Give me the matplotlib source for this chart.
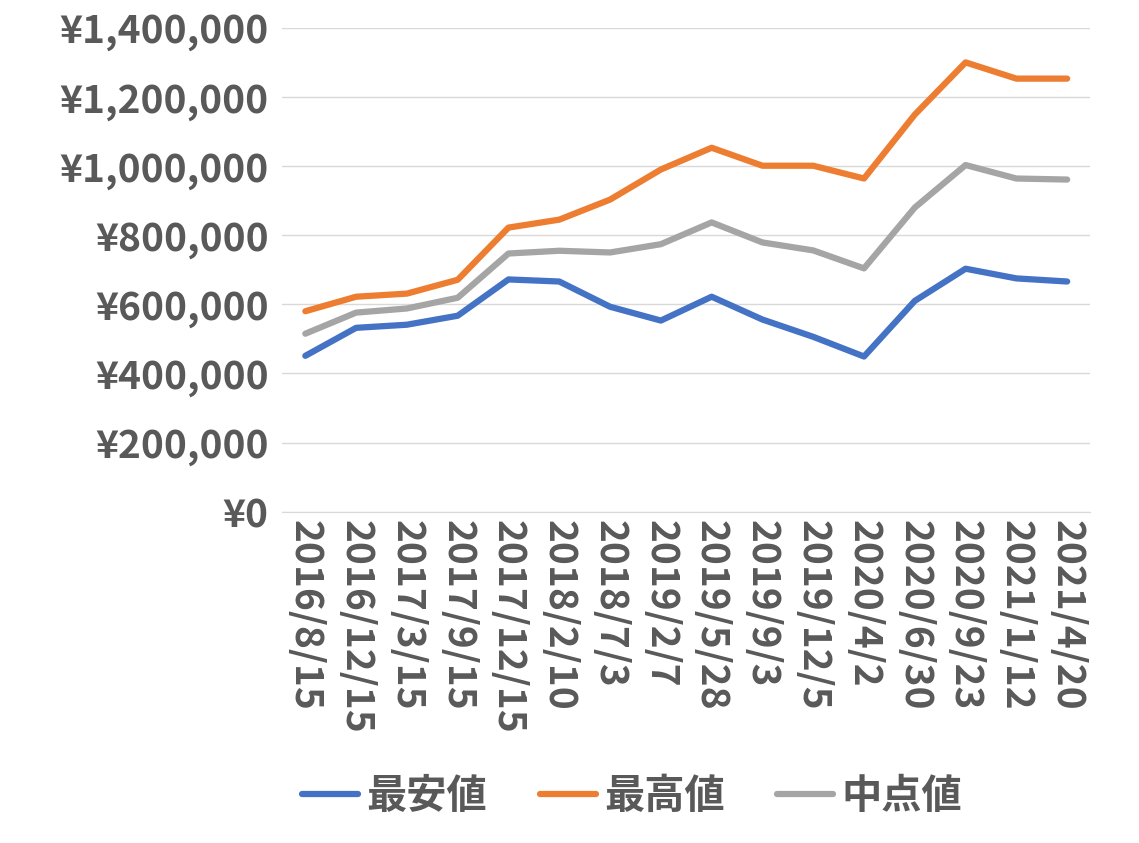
import matplotlib
matplotlib.use("Agg")
import matplotlib.pyplot as plt
from matplotlib.ticker import FuncFormatter

dates = ["2016/8/15","2016/12/15","2017/3/15","2017/9/15","2017/12/15","2018/2/10","2018/7/3","2019/2/7",
         "2019/5/28","2019/9/3","2019/12/5","2020/4/2","2020/6/30","2020/9/23","2021/1/12","2021/4/20"]
low = [451000,532000,541000,567000,672000,666000,593000,553000,622000,556000,506000,449000,610000,703000,675000,666000]
high = [580000,622000,631000,671000,822000,845000,903000,990000,1053000,1001000,1001000,964000,1149000,1300000,1253000,1253000]
mid = [515000,576000,588000,619000,747000,755000,750000,774000,837000,779000,756000,704000,880000,1003000,964000,961000]
names = ["最安値","最高値","中点値"]

plt.rcParams["font.family"] = ["Noto Sans CJK JP", "DejaVu Sans"]
fig = plt.figure(figsize=(11.39,8.43), dpi=100)
ax = fig.add_axes([0.248,0.393,0.709,0.574])
x = range(len(dates))
for ys,c,n in zip([low,high,mid],["#4472C4","#ED7D31","#A5A5A5"],names):
    ax.plot(x, ys, color=c, lw=4.5, label=n, solid_capstyle="round")
ax.set_ylim(0,1400000)
ax.set_xlim(-0.45,15.45)
ax.set_yticks(range(0,1400001,200000))
ax.yaxis.set_major_formatter(FuncFormatter(lambda v,p: f"¥{int(v):,}"))
ax.set_xticks(list(x))
ax.set_xticklabels(dates, rotation=-90, va="top", ha="center")
gray = "#595959"
for lab in ax.get_xticklabels()+ax.get_yticklabels():
    lab.set_fontsize(28); lab.set_fontweight("bold"); lab.set_color(gray)
ax.tick_params(axis="y", length=0, pad=10)
ax.tick_params(axis="x", length=0, pad=6)
ax.grid(axis="y", color="#D9D9D9", lw=1)
for s in ["top","right","left"]:
    ax.spines[s].set_visible(False)
ax.spines["bottom"].set_color("#D9D9D9")
leg = fig.legend(loc="lower center", bbox_to_anchor=(0.555,-0.012), ncol=3, frameon=False,
                 prop={"size":29,"weight":"bold"}, handlelength=1.4, columnspacing=1.3, handletextpad=0.2)
for t in leg.get_texts(): t.set_color(gray)
fig.savefig("out.png", dpi=100)
